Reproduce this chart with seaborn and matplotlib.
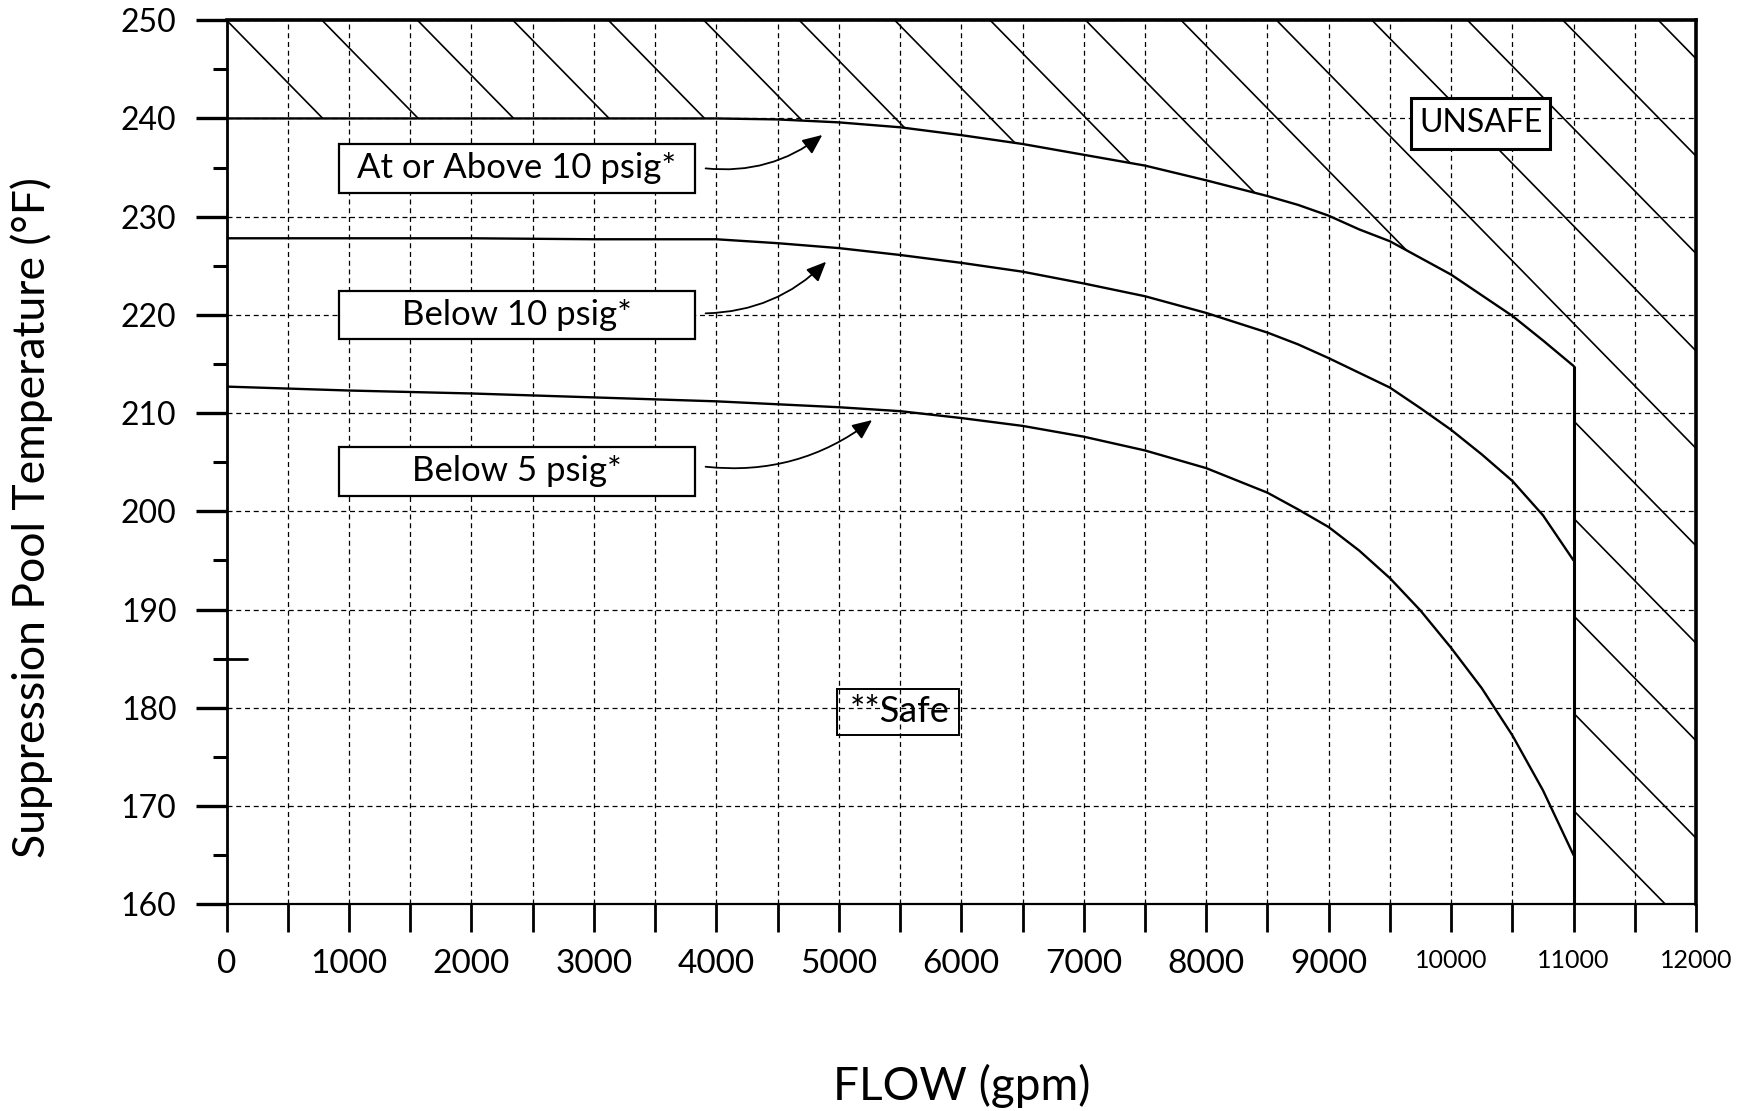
import matplotlib
matplotlib.use("Agg")
import pandas as pd
import matplotlib.pyplot as plt
import seaborn as sns
from matplotlib.ticker import MultipleLocator
from matplotlib.patches import Polygon, Rectangle
from matplotlib.collections import LineCollection

# Curves: flow (gpm) vs suppression pool temperature (F)
flow = [0, 1000, 2000, 3000, 4000, 4500, 5000, 5500, 6000, 6500, 7000, 7500,
        8000, 8500, 8750, 9000, 9250, 9500, 9750, 10000, 10250, 10500, 10750, 11000]
temp_above_10 = [240.0, 240.0, 240.0, 240.0, 240.0, 239.9, 239.6, 239.1, 238.3, 237.4, 236.3, 235.2,
                 233.7, 232.1, 231.2, 230.1, 228.7, 227.5, 225.8, 224.1, 222.0, 219.9, 217.4, 214.8]
temp_below_10 = [227.8, 227.8, 227.8, 227.7, 227.7, 227.3, 226.8, 226.1, 225.3, 224.4, 223.2, 221.9,
                 220.2, 218.2, 217.0, 215.6, 214.1, 212.6, 210.5, 208.3, 205.8, 203.1, 199.6, 195.0]
temp_below_5 = [212.7, 212.3, 212.0, 211.6, 211.2, 210.9, 210.6, 210.2, 209.5, 208.7, 207.6, 206.2,
                204.4, 201.9, 200.2, 198.4, 196.0, 193.2, 189.9, 186.1, 182.0, 177.2, 171.6, 165.0]

curve_labels = ["At or Above 10 psig*", "Below 10 psig*", "Below 5 psig*"]

x_ticks = [0, 1000, 2000, 3000, 4000, 5000, 6000, 7000, 8000, 9000, 10000, 11000, 12000]
x_tick_labels = [str(v) for v in x_ticks]
y_ticks = [160, 170, 180, 190, 200, 210, 220, 230, 240, 250]
y_tick_labels = [str(v) for v in y_ticks]

x_min, x_max = 0, 12000
y_min, y_max = 160, 250

# long form table for seaborn
df = pd.concat([
    pd.DataFrame({"flow": flow, "temp": temp_above_10, "curve": curve_labels[0]}),
    pd.DataFrame({"flow": flow, "temp": temp_below_10, "curve": curve_labels[1]}),
    pd.DataFrame({"flow": flow, "temp": temp_below_5, "curve": curve_labels[2]}),
])

sns.set_theme(style="ticks", rc={"text.color": "black", "axes.labelcolor": "black",
                                 "xtick.color": "black", "ytick.color": "black",
                                 "axes.edgecolor": "black"})
plt.rcParams["font.family"] = ["Lato", "DejaVu Sans"]

fig = plt.figure(figsize=(17.59, 11.11), dpi=100)
ax = fig.add_axes([0.1288, 0.1861, 0.8354, 0.7957])

sns.lineplot(data=df, x="flow", y="temp", hue="curve", palette=["black"] * 3,
             linewidth=1.7, legend=False, ax=ax, zorder=3)

# right boundary of the safe region at 11000 gpm
ax.vlines(flow[-1], y_min, temp_above_10[-1], color="black", linewidth=2.2, zorder=3)

# UNSAFE region, hatched with wide diagonal lines
unsafe = Polygon(list(zip(flow, temp_above_10)) + [(flow[-1], y_min), (x_max, y_min),
                                                   (x_max, y_max), (x_min, y_max)],
                 closed=True, facecolor="none", edgecolor="none")
ax.add_patch(unsafe)
hatch_step = 779.5      # gpm between hatch lines along the top edge
hatch_slope = 0.012725  # deg F drop per gpm
segs = [[(x_min, y_max + k * hatch_step * hatch_slope),
         (x_max, y_max + k * hatch_step * hatch_slope - (x_max - x_min) * hatch_slope)]
        for k in range(0, 17)]
hatch = LineCollection(segs, colors="black", linewidths=1.2, zorder=2)
ax.add_collection(hatch)
hatch.set_clip_path(unsafe)

ax.set_xlim(x_min, x_max)
ax.set_ylim(y_min, y_max)

# ticks and grid
ax.set_xticks(x_ticks, x_tick_labels)
ax.set_yticks(y_ticks, y_tick_labels)
ax.xaxis.set_minor_locator(MultipleLocator(500))
ax.yaxis.set_minor_locator(MultipleLocator(5))
ax.tick_params(axis="x", which="both", direction="out", length=20, width=2, pad=12, labelsize=24)
ax.tick_params(axis="y", which="major", direction="out", length=22, width=2.4, pad=14, labelsize=23)
ax.tick_params(axis="y", which="minor", direction="out", length=10, width=2.2)
for lab in ax.get_xticklabels():
    if int(lab.get_text()) >= 10000:
        lab.set_fontsize(18)

ax.set_axisbelow(True)
ax.grid(True, which="major", axis="both", color="black", linestyle=(0, (4, 3)), linewidth=0.9)
ax.grid(True, which="minor", axis="x", color="black", linestyle=(0, (4, 3)), linewidth=0.9)

for side, lw in {"top": 2.6, "right": 2.6, "left": 2.0, "bottom": 1.6}.items():
    ax.spines[side].set_linewidth(lw)
    ax.spines[side].set_color("black")

# stray tick mark at 185
ax.axhline(185, xmin=0, xmax=0.014, color="black", linewidth=2, zorder=4)

ax.set_xlabel("FLOW (gpm)", fontsize=33)
ax.xaxis.set_label_coords(0.5, -0.18)
ax.set_ylabel("Suppression Pool Temperature (°F)", fontsize=32)
ax.yaxis.set_label_coords(-0.118, 0.437)

# labelled boxes with arrows pointing at the curves
boxes = [(0.0763, 0.8046, 0.8604), (0.0763, 0.6397, 0.694), (0.0763, 0.4617, 0.5175)]
arrows = [((0.326, 0.8324), (0.4054, 0.8702)),
          ((0.326, 0.6684), (0.408, 0.7268)),
          ((0.326, 0.4949), (0.4393, 0.5477))]
box_w = 0.2427
for label, (bx, by0, by1), (start, tip) in zip(curve_labels, boxes, arrows):
    ax.add_patch(Rectangle((bx, by0), box_w, by1 - by0, transform=ax.transAxes,
                           facecolor="white", edgecolor="black", linewidth=1.6, zorder=5))
    ax.text(bx + box_w / 2, (by0 + by1) / 2, label, transform=ax.transAxes,
            ha="center", va="center", fontsize=25, zorder=6)
    ax.annotate("", xy=tip, xytext=start, xycoords="axes fraction", textcoords="axes fraction",
                arrowprops=dict(arrowstyle="-|>,head_length=0.5,head_width=0.22",
                                connectionstyle="arc3,rad=0.2", color="black",
                                linewidth=1.3, mutation_scale=24, shrinkA=0, shrinkB=0), zorder=6)

ax.add_patch(Rectangle((0.8061, 0.8541), 0.0947, 0.0583, transform=ax.transAxes,
                       facecolor="white", edgecolor="black", linewidth=2.2, zorder=5))
ax.text(0.8535, 0.8832, "UNSAFE", transform=ax.transAxes, ha="center", va="center",
        fontsize=23, zorder=6)

ax.add_patch(Rectangle((0.4151, 0.1916), 0.0834, 0.0521, transform=ax.transAxes,
                       facecolor="none", edgecolor="black", linewidth=1.4, zorder=5))
ax.text(0.4578, 0.2176, "**Safe", transform=ax.transAxes, ha="center", va="center",
        fontsize=26, zorder=6)

fig.savefig("out.png", dpi=100)
